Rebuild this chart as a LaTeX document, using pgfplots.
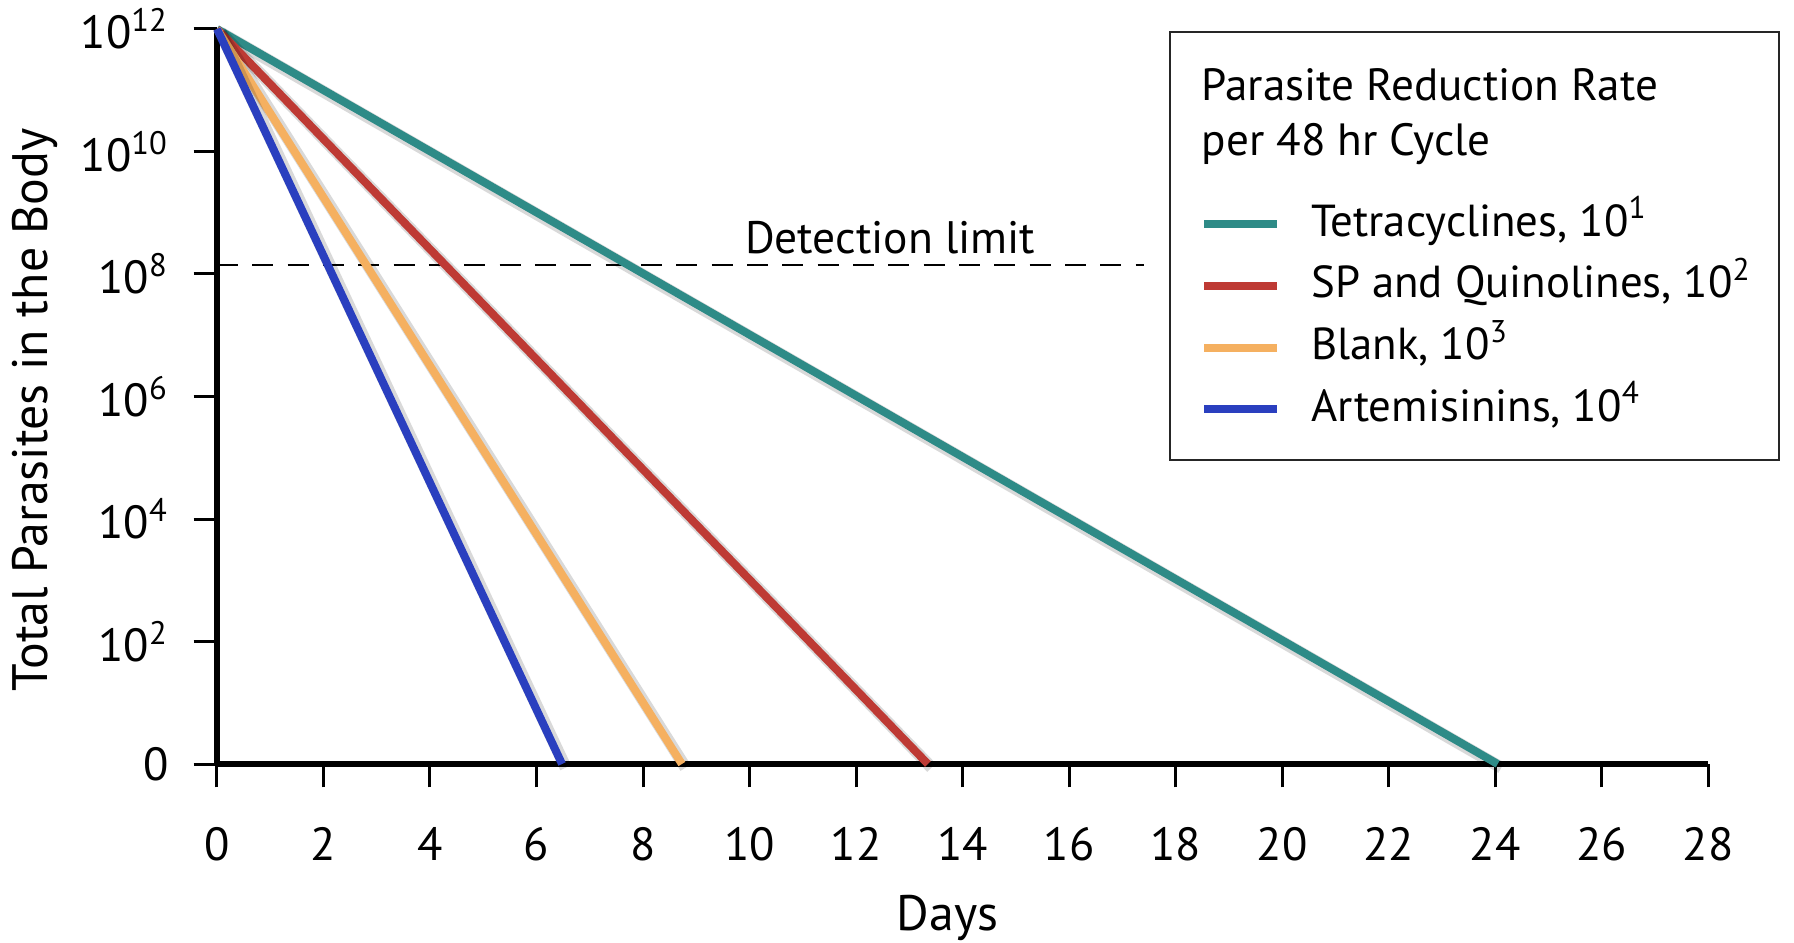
\documentclass[border=0pt]{standalone}
\usepackage{fontspec}
\setmainfont{PT Sans}
\usepackage{pgfplots}
\pgfplotsset{compat=1.18}

\definecolor{tetra}{RGB}{46,139,135}
\definecolor{spq}{RGB}{190,58,52}
\definecolor{blank}{RGB}{245,176,96}
\definecolor{arte}{RGB}{42,63,191}

\pgfplotsset{shadow/.style={black, opacity=0.15, line width=3.6bp, xshift=1.1bp, yshift=-1.1bp, forget plot}}

\begin{document}
\begin{tikzpicture}
\begin{axis}[
  at={(0,0)}, anchor=south west,
  scale only axis, width=447.3bp, height=220.5bp,
  ymode=log, yminorticks=false,
  xmin=0, xmax=28, ymin=1, ymax=1e12,
  clip=false,
  axis x line*=bottom, axis y line*=left,
  axis line style={line width=1.8bp},
  xtick={0,2,...,28},
  ytick={1,1e2,1e4,1e6,1e8,1e10,1e12},
  yticklabels={0,10\textsuperscript{2},10\textsuperscript{4},10\textsuperscript{6},10\textsuperscript{8},10\textsuperscript{10},10\textsuperscript{12}},
  xticklabel={\pgfmathprintnumber[assume math mode=true]{\tick}},
  tick align=outside, major tick length=7bp,
  tick style={black, line width=0.9bp},
  ticklabel style={font=\fontsize{14}{16}\selectfont},
  xticklabel style={yshift=-8.4bp},
  yticklabel style={xshift=-4bp},
  xlabel={Days}, ylabel={Total Parasites in the Body},
  label style={font=\fontsize{15}{18}\selectfont},
  xlabel style={at={(axis description cs:0.49,-0.21)}, anchor=center},
  ylabel style={at={(axis description cs:-0.122,0.482)}, anchor=center},
  legend style={draw=none, fill=none, inner sep=0pt,
    at={(0.6589,0.769)}, anchor=north west,
    font=\fontsize{13.5}{16}\selectfont, row sep=3.5bp, column sep=8bp,
    nodes={inner sep=1bp, text height=10bp, text depth=3bp}},
  legend cell align=left,
  legend image code/.code={\draw[#1] (0bp,0bp) -- (22bp,0bp);},
]
% detection limit
\addplot[black, line width=0.6bp, dash pattern=on 6.3bp off 4.3bp, forget plot]
  coordinates {(0,1.4e8) (17.4,1.4e8)};
\node[font=\fontsize{13.7}{16}\selectfont] at (axis cs:12.64,3.9e8) {Detection limit};

\addplot[shadow] coordinates {(0,1e12) (24.05,1)};
\addplot[tetra, line width=2.4bp] coordinates {(0,1e12) (24.05,1)};
\addlegendentry{Tetracyclines, 10\textsuperscript{1}}

\addplot[shadow] coordinates {(0,1e12) (13.35,1)};
\addplot[spq, line width=2.4bp] coordinates {(0,1e12) (13.35,1)};
\addlegendentry{SP and Quinolines, 10\textsuperscript{2}}

\addplot[shadow] coordinates {(0,1e12) (8.73,1)};
\addplot[blank, line width=2.4bp] coordinates {(0,1e12) (8.73,1)};
\addlegendentry{Blank, 10\textsuperscript{3}}

\addplot[shadow] coordinates {(0,1e12) (6.48,1)};
\addplot[arte, line width=2.4bp] coordinates {(0,1e12) (6.48,1)};
\addlegendentry{Artemisinins, 10\textsuperscript{4}}
\end{axis}
% legend frame and title
\draw[line width=0.7bp, black!85] (285.9bp,91.2bp) rectangle (468.6bp,219.6bp);
\node[anchor=base west, inner sep=0pt, font=\fontsize{13.6}{16}\selectfont] at (295.2bp,199bp) {Parasite Reduction Rate};
\node[anchor=base west, inner sep=0pt, font=\fontsize{13.6}{16}\selectfont] at (295.2bp,182.5bp) {per 48 hr Cycle};
\pgfresetboundingbox
\path (-65.1bp,-53.7bp) rectangle (473.1bp,229.2bp);
\end{tikzpicture}
\end{document}
